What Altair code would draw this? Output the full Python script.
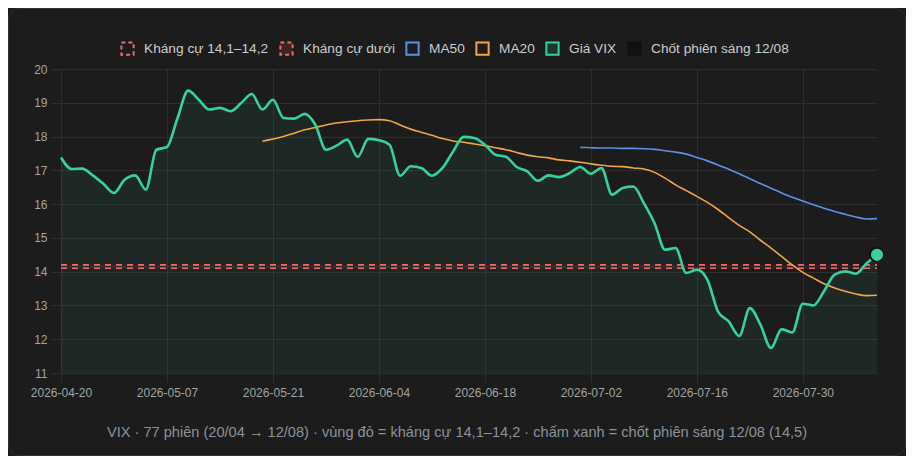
import altair as alt
import pandas as pd

# ---- data ----
dates = [
    "2026-04-20", "2026-04-21", "2026-04-22", "2026-04-23", "2026-04-24", "2026-04-28", "2026-04-29",
    "2026-05-04", "2026-05-05", "2026-05-06", "2026-05-07", "2026-05-08", "2026-05-11", "2026-05-12",
    "2026-05-13", "2026-05-14", "2026-05-15", "2026-05-18", "2026-05-19", "2026-05-20", "2026-05-21",
    "2026-05-22", "2026-05-25", "2026-05-26", "2026-05-27", "2026-05-28", "2026-05-29", "2026-06-01",
    "2026-06-02", "2026-06-03", "2026-06-04", "2026-06-05", "2026-06-08", "2026-06-09", "2026-06-10",
    "2026-06-11", "2026-06-12", "2026-06-15", "2026-06-16", "2026-06-17", "2026-06-18", "2026-06-19",
    "2026-06-22", "2026-06-23", "2026-06-24", "2026-06-25", "2026-06-26", "2026-06-29", "2026-06-30",
    "2026-07-01", "2026-07-02", "2026-07-03", "2026-07-06", "2026-07-07", "2026-07-08", "2026-07-09",
    "2026-07-10", "2026-07-13", "2026-07-14", "2026-07-15", "2026-07-16", "2026-07-17", "2026-07-20",
    "2026-07-21", "2026-07-22", "2026-07-23", "2026-07-24", "2026-07-27", "2026-07-28", "2026-07-29",
    "2026-07-30", "2026-07-31", "2026-08-03", "2026-08-04", "2026-08-05", "2026-08-06", "2026-08-07",
    "2026-08-12",
]
vix = [
    17.38, 17.04, 17.05, 16.85, 16.6, 16.33, 16.72, 16.85, 16.43, 17.61,
    17.69, 18.55, 19.36, 19.09, 18.8, 18.85, 18.75, 18.99, 19.26, 18.8,
    19.09, 18.55, 18.53, 18.67, 18.35, 17.61, 17.73, 17.91, 17.4, 17.93,
    17.89, 17.76, 16.84, 17.12, 17.07, 16.84, 17.07, 17.56, 17.99, 17.96,
    17.76, 17.46, 17.4, 17.1, 16.97, 16.69, 16.85, 16.8, 16.92, 17.1,
    16.9, 17.07, 16.28, 16.48, 16.52, 16.03, 15.44, 14.65, 14.7, 13.96,
    14.06, 13.76, 12.82, 12.53, 12.1, 12.92, 12.43, 11.74, 12.3, 12.2,
    13.05, 13.0, 13.42, 13.91, 14.01, 13.94, 14.24, 14.5,
]
ma20_start = 19
ma20 = [
    17.86, 17.93, 18.0, 18.1, 18.2, 18.27, 18.34, 18.4, 18.44, 18.47,
    18.49, 18.5, 18.47, 18.34, 18.22, 18.13, 18.04, 17.94, 17.87, 17.83,
    17.78, 17.73, 17.67, 17.61, 17.53, 17.45, 17.4, 17.37, 17.31, 17.28,
    17.24, 17.19, 17.15, 17.12, 17.11, 17.07, 17.04, 16.94, 16.77, 16.57,
    16.4, 16.23, 16.05, 15.84, 15.6, 15.37, 15.18, 14.93, 14.7, 14.45,
    14.2, 13.98, 13.81, 13.64, 13.52, 13.42, 13.34, 13.29, 13.3,
]
ma50_start = 49
ma50 = [
    17.68, 17.67, 17.66, 17.66, 17.65, 17.65, 17.64, 17.62, 17.58, 17.54,
    17.48, 17.38, 17.28, 17.16, 17.03, 16.9, 16.75, 16.61, 16.47, 16.33,
    16.2, 16.09, 15.98, 15.88, 15.78, 15.7, 15.62, 15.56, 15.57,
]
res_hi = 14.2
res_lo = 14.1
close_date = "2026-08-12"
close_value = 14.5
tick_dates = dates[::10]
y_ticks = [11, 12, 13, 14, 15, 16, 17, 18, 19, 20]

legend_items = ["Kháng cự 14,1–14,2", "Kháng cự dưới", "MA50", "MA20", "Giá VIX", "Chốt phiên sáng 12/08"]
legend_strokes = ["#ef6b6b", "#ef6b6b", "#5f8fe6", "#f2a541", "#34d399", "#111111"]
legend_fills = ["transparent", "rgba(239,68,68,0.18)", "transparent", "transparent",
                "rgba(52,211,153,0.15)", "#111111"]
legend_dashes = [[4, 3], [4, 3], [1, 0], [1, 0], [1, 0], [1, 0]]

subtitle = "VIX · 77 phiên (20/04 → 12/08) · vùng đỏ = kháng cự 14,1–14,2 · chấm xanh = chốt phiên sáng 12/08 (14,5)"

FONT = "Liberation Sans, Arial, Helvetica, sans-serif"
GRID = "#2e2e2e"
W, H = 816, 304
PAD = {"left": 53, "top": 61, "right": 29, "bottom": 83}

# ---- tables ----
df = pd.DataFrame({"date": dates, "vix": vix})
df["ma20"] = [None] * ma20_start + ma20
df["ma50"] = [None] * ma50_start + ma50
df["hi"] = res_hi
df["lo"] = res_lo

close_df = pd.DataFrame({"date": [close_date], "v": [close_value]})
legend_df = pd.DataFrame({"item": legend_items, "date": [dates[0]] * len(legend_items),
                          "v": [None] * len(legend_items)})
frame_df = pd.DataFrame({"k": [0]})

x_enc = alt.X(
    "date:O", sort=dates,
    scale=alt.Scale(type="point", padding=0),
    axis=alt.Axis(values=tick_dates, title=None, labelAngle=0, grid=True, gridColor=GRID,
                  tickColor=GRID, tickSize=9, domain=False, labelColor="#a3a3a3",
                  labelFontSize=12, labelFont=FONT, labelPadding=5),
)
y_scale = alt.Scale(domain=[11, 20], zero=False, nice=False)
y_axis = alt.Axis(values=y_ticks, title=None, grid=True, gridColor=GRID, tickColor=GRID,
                  tickSize=10, domain=False, labelColor="#a3a3a3", labelFontSize=12,
                  labelFont=FONT, labelPadding=4)

base = alt.Chart(df)

area = base.mark_area(interpolate="monotone", color="#34d399", opacity=0.07).encode(
    x=x_enc, y=alt.Y("vix:Q", scale=y_scale, axis=y_axis), y2=alt.datum(11)
)
band = base.mark_area(color="#ef4444", opacity=0.12).encode(
    x=x_enc, y=alt.Y("hi:Q", scale=y_scale, axis=y_axis), y2="lo:Q"
)
line_hi = base.mark_line(color="#ef6b6b", strokeWidth=1.6, strokeDash=[6, 5]).encode(
    x=x_enc, y=alt.Y("hi:Q", scale=y_scale, axis=y_axis)
)
line_lo = base.mark_line(color="#ef6b6b", strokeWidth=1.6, strokeDash=[6, 5]).encode(
    x=x_enc, y=alt.Y("lo:Q", scale=y_scale, axis=y_axis)
)
ma50_line = base.mark_line(interpolate="monotone", color="#5f8fe6", strokeWidth=1.6).encode(
    x=x_enc, y=alt.Y("ma50:Q", scale=y_scale, axis=y_axis)
)
ma20_line = base.mark_line(interpolate="monotone", color="#f2a541", strokeWidth=1.6).encode(
    x=x_enc, y=alt.Y("ma20:Q", scale=y_scale, axis=y_axis)
)
vix_line = base.mark_line(interpolate="monotone", color="#34d399", strokeWidth=2.6).encode(
    x=x_enc, y=alt.Y("vix:Q", scale=y_scale, axis=y_axis)
)
dot = alt.Chart(close_df).mark_point(filled=True, color="#34d399", size=196, stroke="#111111",
                                     strokeWidth=1.8, opacity=1).encode(
    x=x_enc, y=alt.Y("v:Q", scale=y_scale, axis=y_axis)
)

leg = alt.Legend(title=None, orient="none", legendX=59, legendY=-28, direction="horizontal",
                 symbolType="square", symbolSize=150, symbolStrokeWidth=2,
                 labelColor="#cccccc", labelFontSize=13.7, labelFont=FONT,
                 columnPadding=7, labelOffset=9)
legend_layer = alt.Chart(legend_df).mark_point(shape="square", size=150, strokeWidth=2,
                                               opacity=1).encode(
    x=x_enc,
    y=alt.Y("v:Q", scale=y_scale, axis=y_axis),
    stroke=alt.Stroke("item:N", scale=alt.Scale(domain=legend_items, range=legend_strokes), legend=leg),
    fill=alt.Fill("item:N", scale=alt.Scale(domain=legend_items, range=legend_fills), legend=leg),
    strokeDash=alt.StrokeDash("item:N", scale=alt.Scale(domain=legend_items, range=legend_dashes),
                              legend=leg),
)

frame = alt.Chart(frame_df).mark_rect(cornerRadius=12, fill="transparent", stroke="#343434",
                                      strokeWidth=1).encode(
    x=alt.value(-PAD["left"] + 0.5), x2=alt.value(W + PAD["right"] - 0.5),
    y=alt.value(-PAD["top"] + 0.5), y2=alt.value(H + PAD["bottom"] - 0.5),
)

chart = alt.layer(
    area, band, line_hi, line_lo, ma50_line, ma20_line, vix_line, dot, legend_layer, frame
).properties(
    width=W, height=H, padding=PAD,
    autosize=alt.AutoSizeParams(type="none"),
    background="#1c1c1c",
    title=alt.TitleParams(subtitle, orient="bottom", anchor="middle", fontSize=14.6, font=FONT,
                          fontWeight="normal", color="#8b929c", offset=-31, dx=-12),
).configure_view(stroke=None)

chart.save("out.html", embed_options={"renderer": "svg", "actions": False})
